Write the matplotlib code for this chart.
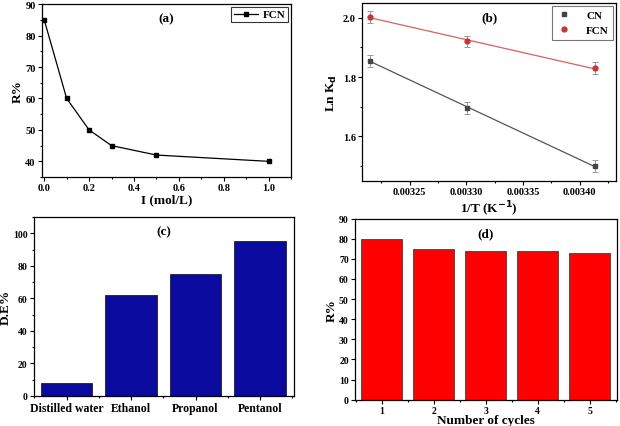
import numpy as np
import matplotlib
matplotlib.use("Agg")
from matplotlib import pyplot as plt
from matplotlib.ticker import AutoMinorLocator

plt.rcParams["font.family"] = "Liberation Serif"
plt.rcParams["font.weight"] = "bold"
plt.rcParams["axes.labelweight"] = "bold"

# ---- (a) ionic strength
ionic = [0.0, 0.1, 0.2, 0.3, 0.5, 1.0]
r_ionic = [85, 60, 50, 45, 42, 40]

# ---- (b) van't Hoff
inv_t = [0.0032154, 0.0033003, 0.0034130]
ln_kd_cn = [1.855, 1.695, 1.500]
ln_kd_fcn = [2.003, 1.920, 1.830]
err_cn = [0.02, 0.02, 0.02]
err_fcn = [0.02, 0.02, 0.02]

# ---- (c) desorption
eluents = ["Distilled water", "Ethanol", "Propanol", "Pentanol"]
de = [8, 62, 75, 95]

# ---- (d) reuse cycles
cycles = [1, 2, 3, 4, 5]
r_cycles = [80, 75, 74, 74, 73]

fig = plt.figure(figsize=(6.2, 4.27), dpi=100)
ax_a = fig.add_axes([0.0677, 0.583, 0.4016, 0.405])
ax_b = fig.add_axes([0.584, 0.5738, 0.4097, 0.4169])
ax_c = fig.add_axes([0.0544, 0.0703, 0.42, 0.419])
ax_d = fig.add_axes([0.5726, 0.0616, 0.422, 0.424])

tick_fs = 7.5
lab_fs = 9.5


def style(ax):
    ax.tick_params(which="both", direction="out", top=False, right=False,
                   labelsize=tick_fs, width=0.8, pad=1.5)
    ax.tick_params(which="major", length=3)
    ax.tick_params(which="minor", length=1.5)
    for s in ax.spines.values():
        s.set_linewidth(0.9)


def panel_tag(ax, tag):
    ax.text(0.5, 0.92, tag, transform=ax.transAxes, ha="center", va="center",
            fontsize=9.5, fontweight="bold")


# (a)
ax_a.plot(ionic, r_ionic, color="black", lw=0.9, marker="s", ms=3.5, label="FCN")
ax_a.set_xlim(-0.01, 1.1)
ax_a.set_ylim(35, 90)
ax_a.set_xticks([0.0, 0.2, 0.4, 0.6, 0.8, 1.0])
ax_a.set_yticks([40, 50, 60, 70, 80, 90])
ax_a.xaxis.set_minor_locator(AutoMinorLocator(2))
ax_a.yaxis.set_minor_locator(AutoMinorLocator(2))
ax_a.set_xlabel("I (mol/L)", fontsize=lab_fs, labelpad=1)
ax_a.set_ylabel("R%", fontsize=lab_fs, labelpad=1)
panel_tag(ax_a, "(a)")
leg = ax_a.legend(loc="upper right", fontsize=8, fancybox=False, edgecolor="black",
                  borderaxespad=0.25, handlelength=2.2, borderpad=0.25,
                  handletextpad=0.4)
leg.get_frame().set_linewidth(0.8)
style(ax_a)

# (b)
xs = np.array(inv_t)
for y, e, col, lcol, mk, lab in [
    (ln_kd_cn, err_cn, "#444444", "#555555", "s", "CN"),
    (ln_kd_fcn, err_fcn, "#cc3333", "#d96060", "o", "FCN"),
]:
    k, b = np.polyfit(xs, y, 1)
    ax_b.plot(xs, k * xs + b, color=lcol, lw=0.9)
    ax_b.errorbar(xs, y, yerr=e, fmt="none", ecolor="#999999",
                  elinewidth=0.7, capsize=2, capthick=0.7)
    ax_b.plot(xs, y, mk, color=col, ms=3.5, label=lab)
ax_b.set_xlim(0.003208, 0.003432)
ax_b.set_ylim(1.449, 2.05)
ax_b.set_xticks([0.00325, 0.00330, 0.00335, 0.00340])
ax_b.set_xticklabels(["0.00325", "0.00330", "0.00335", "0.00340"])
ax_b.set_yticks([1.6, 1.8, 2.0])
ax_b.xaxis.set_minor_locator(AutoMinorLocator(2))
ax_b.yaxis.set_minor_locator(AutoMinorLocator(2))
ax_b.set_xlabel("1/T (K$^{\\mathbf{-1}}$)", fontsize=lab_fs, labelpad=2)
ax_b.set_ylabel("Ln K$_\\mathbf{d}$", fontsize=lab_fs, labelpad=3)
panel_tag(ax_b, "(b)")
leg = ax_b.legend(loc="upper right", fontsize=8, fancybox=False, edgecolor="#555555",
                  borderaxespad=0.25, handlelength=1.5, borderpad=0.4,
                  handletextpad=1.2)
leg.get_frame().set_linewidth(0.8)
style(ax_b)

# (c)
xc = np.arange(len(eluents))
ax_c.bar(xc, de, width=0.8, color="#0a0a9e", edgecolor="#202020", lw=0.6)
ax_c.set_xlim(-0.51, 3.53)
ax_c.set_ylim(0, 110)
ax_c.set_xticks(xc)
ax_c.set_xticklabels(eluents)
ax_c.set_yticks([0, 20, 40, 60, 80, 100])
ax_c.xaxis.set_minor_locator(AutoMinorLocator(2))
ax_c.yaxis.set_minor_locator(AutoMinorLocator(2))
ax_c.set_ylabel("D.E%", fontsize=lab_fs, labelpad=1)
panel_tag(ax_c, "(c)")
style(ax_c)
ax_c.tick_params(axis="x", which="major", labelsize=8.5, pad=1)
ax_c.tick_params(axis="y", labelsize=7)

# (d)
ax_d.bar(cycles, r_cycles, width=0.8, color="#ff0000", edgecolor="#404040", lw=0.6)
ax_d.set_xlim(0.49, 5.52)
ax_d.set_ylim(0, 90)
ax_d.set_xticks(cycles)
ax_d.set_yticks(range(0, 91, 10))
ax_d.xaxis.set_minor_locator(AutoMinorLocator(2))
ax_d.set_xlabel("Number of cycles", fontsize=lab_fs, labelpad=-1)
ax_d.set_ylabel("R%", fontsize=lab_fs, labelpad=1)
panel_tag(ax_d, "(d)")
style(ax_d)
ax_d.tick_params(axis="both", labelsize=7)

fig.savefig("out.png", dpi=100)
